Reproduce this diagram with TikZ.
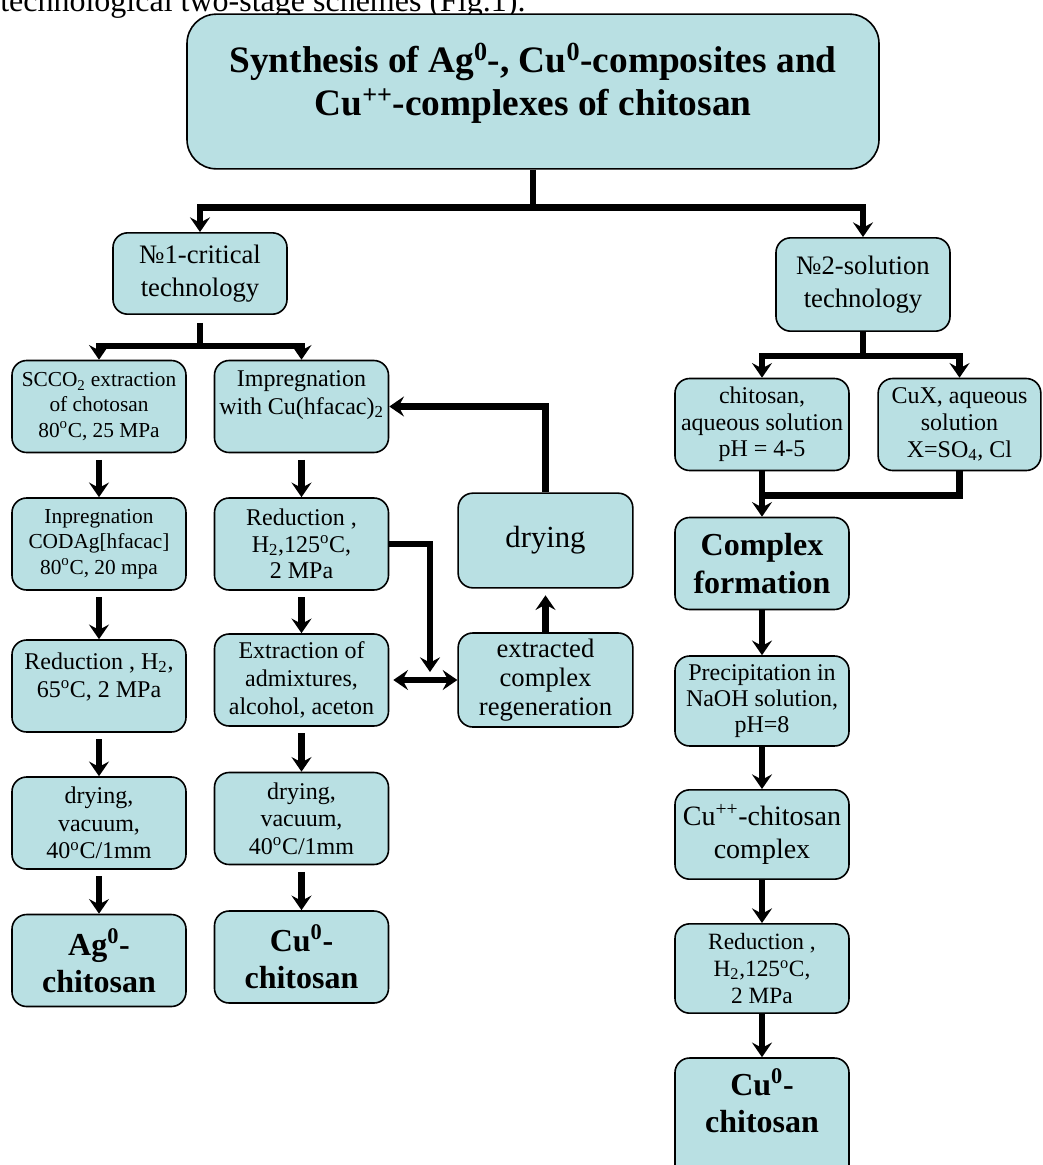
\documentclass[tikz,border=0pt]{standalone}
\usepackage{fontspec}
\setmainfont{Liberation Serif}
\usetikzlibrary{arrows.meta, positioning, calc}
\definecolor{boxcyan}{RGB}{185, 224, 227}

\begin{document}
\begin{tikzpicture}[x=0.75pt, y=-0.75pt,
  stepbox/.style={draw=black, line width=1.2pt, fill=boxcyan, rounded corners=11pt, align=center, inner sep=0pt, minimum width=130.5pt, minimum height=69pt},
  flow/.style={line width=5pt, -{Stealth[length=11pt, width=15pt, inset=4pt]}},
  biflow/.style={line width=5pt, {Stealth[length=11pt, width=15pt, inset=4pt]}-{Stealth[length=11pt, width=15pt, inset=4pt]}},
  bar/.style={line width=5pt}
]
  \useasboundingbox (0,0) rectangle (1043,1165);

  \node[anchor=base west, inner sep=0pt, font=\fontsize{24}{28}\selectfont] (lead) at (0, 11) {technological two-stage schemes (Fig.1).};

  % title
  \node[stepbox, minimum width=519pt, minimum height=116pt, rounded corners=22pt, font=\fontsize{28}{32}\selectfont\bfseries] (title) at (533, 91.5) {
    Synthesis of Ag\textsuperscript{0}-, Cu\textsuperscript{0}-composites and\\
    Cu\textsuperscript{++}-complexes of chitosan\\[-14pt]\mbox{}
  };

  % two technologies
  \node[stepbox, minimum height=61pt, font=\fontsize{20}{25}\selectfont] (crit) at (200, 273.5) {№1-critical\\technology};
  \node[stepbox, minimum height=70pt, font=\fontsize{20}{25}\selectfont] (sol) at (863, 284.5) {№2-solution\\technology};

  % critical technology, Ag
  \node[stepbox, font=\fontsize{16}{19}\selectfont] (scco) at (99, 406.5) {SCCO\textsubscript{2} extraction\\of chotosan\\80\textsuperscript{o}C, 25 MPa};
  \node[stepbox, font=\fontsize{16}{19}\selectfont] (inpr) at (99, 544) {Inpregnation\\CODAg[hfacac]\\80\textsuperscript{o}C, 20 mpa};
  \node[stepbox, font=\fontsize{18}{21}\selectfont] (redag) at (99, 686) {Reduction , H\textsubscript{2},\\65\textsuperscript{o}C, 2 MPa\\[-4pt]\mbox{}};
  \node[stepbox, font=\fontsize{18}{20.5}\selectfont] (dryag) at (99, 823) {drying,\\vacuum,\\40\textsuperscript{o}C/1mm};
  \node[stepbox, font=\fontsize{24}{28}\selectfont\bfseries] (ag) at (99, 960.5) {Ag\textsuperscript{0}-\\chitosan};

  % critical technology, Cu
  \node[stepbox, font=\fontsize{18}{21}\selectfont] (impr) at (301.5, 406.5) {Impregnation\\with Cu(hfacac)\textsubscript{2}\\\mbox{}};
  \node[stepbox, font=\fontsize{18}{20}\selectfont] (redcu) at (301.5, 544) {Reduction ,\\H\textsubscript{2},125\textsuperscript{o}C,\\2 MPa};
  \node[stepbox, font=\fontsize{18}{21}\selectfont] (extr) at (301.5, 680) {Extraction of\\admixtures,\\alcohol, aceton};
  \node[stepbox, font=\fontsize{18}{20.5}\selectfont] (drycu) at (301.5, 818.5) {drying,\\vacuum,\\40\textsuperscript{o}C/1mm};
  \node[stepbox, font=\fontsize{24}{28}\selectfont\bfseries] (cua) at (301.5, 957) {Cu\textsuperscript{0}-\\chitosan};

  % regeneration loop
  \node[stepbox, minimum width=131pt, minimum height=71pt, font=\fontsize{23}{27}\selectfont] (dryreg) at (545.5, 540.5) {drying};
  \node[stepbox, minimum width=131pt, minimum height=70.5pt, font=\fontsize{20}{22}\selectfont] (regen) at (545.5, 680) {extracted\\complex\\regeneration};

  % solution technology
  \node[stepbox, font=\fontsize{18}{20}\selectfont] (chit) at (762, 424.5) {chitosan,\\aqueous solution\\pH = 4-5};
  \node[stepbox, minimum width=122pt, font=\fontsize{18}{20}\selectfont] (cux) at (959.5, 424.5) {CuX, aqueous\\solution\\X=SO\textsubscript{4}, Cl};
  \node[stepbox, font=\fontsize{24}{28}\selectfont\bfseries] (cplx) at (762, 563.5) {Complex\\formation};
  \node[stepbox, minimum height=67.5pt, font=\fontsize{18}{19.5}\selectfont] (prec) at (762, 701) {Precipitation in\\NaOH solution,\\pH=8};
  \node[stepbox, minimum height=67pt, font=\fontsize{21}{25}\selectfont] (cuch) at (762, 834.5) {Cu\textsuperscript{++}-chitosan\\complex};
  \node[stepbox, minimum height=67pt, font=\fontsize{17.5}{20}\selectfont] (redsol) at (762, 968.5) {Reduction ,\\H\textsubscript{2},125\textsuperscript{o}C,\\2 MPa};
  \node[stepbox, minimum height=91.5pt, font=\fontsize{24}{28}\selectfont\bfseries] (cub) at (762, 1119) {Cu\textsuperscript{0}-\\chitosan\\\mbox{}};

  % forks
  \coordinate (fork) at ($(title.south)+(0,38)$);
  \draw[flow] (title.south) -- (fork) -| (crit.north);
  \draw[flow] (fork) -| (sol.north);

  \coordinate (forkcrit) at ($(crit.south)+(0,31)$);
  \draw[bar] ($(crit.south)+(0,8)$) -- (forkcrit);
  \draw[flow] (forkcrit) -| (scco.north);
  \draw[flow] (forkcrit) -| (impr.north);

  \coordinate (forksol) at ($(sol.south)+(0,24)$);
  \draw[bar] (sol.south) -- (forksol);
  \draw[flow] (forksol) -| (chit.north);
  \draw[flow] (forksol) -| (cux.north);

  \coordinate (merge) at ($(chit.south)+(0,24)$);
  \draw[bar] (cux.south) |- (merge);

  % straight steps
  \foreach \a/\b in {scco/inpr, inpr/redag, redag/dryag, dryag/ag, impr/redcu, redcu/extr, extr/drycu, drycu/cua}
    \draw[flow, shorten <=5pt] (\a.south) -- (\b.north);
  \foreach \a/\b in {chit/cplx, cplx/prec, prec/cuch, cuch/redsol, redsol/cub}
    \draw[flow] (\a.south) -- (\b.north);

  % regeneration
  \coordinate (meet) at (430, 680);
  \draw[flow, shorten >=6pt] (redcu.east) -| (meet);
  \draw[biflow, shorten <=3pt] (extr.east) -- (regen.west);
  \draw[flow, shorten >=5pt] (regen.north) -- (dryreg.south);
  \draw[flow] (dryreg.north) |- (impr.east);
\end{tikzpicture}
\end{document}
